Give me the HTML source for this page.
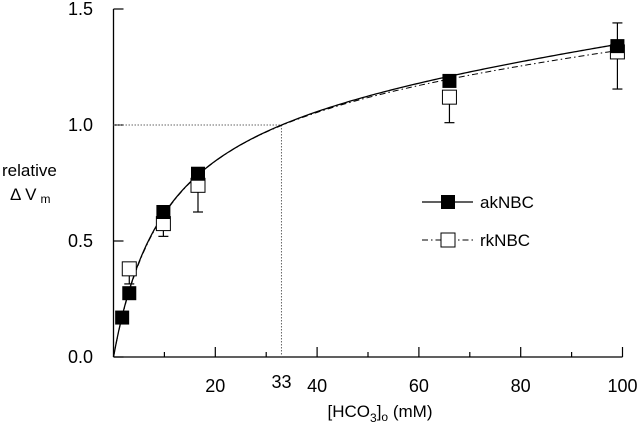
<!DOCTYPE html>
<html><head><meta charset="utf-8"><style>
body{margin:0;background:#fff;}
svg{display:block;font-family:"Liberation Sans",sans-serif;}
</style></head><body>
<svg id="chart" width="640" height="428" viewBox="0 0 640 428">
<g id="axes"></g>
<g id="guides"></g>
<g id="curves"></g>
<g id="marks"></g>
<text x="2" y="176" font-size="17">relative</text>
<text x="10" y="200" font-size="17">Δ V<tspan font-size="12" dx="4" dy="3">m</tspan></text>
<text x="380" y="417" font-size="17" text-anchor="middle">[HCO<tspan font-size="12" dy="5">3</tspan><tspan dy="-5">]</tspan><tspan font-size="12" dy="4">o</tspan><tspan dy="-4"> (mM)</tspan></text>
<g>
<line x1="422" y1="202" x2="473" y2="202" stroke="#000" stroke-width="1.2"/>
<rect x="441" y="195" width="14" height="14" fill="#000"/>
<text x="480" y="208" font-size="17">akNBC</text>
<line x1="422" y1="240" x2="473" y2="240" stroke="#000" stroke-width="1" stroke-dasharray="6,3,1.5,3"/>
<rect x="441" y="233" width="14" height="14" fill="#fff" stroke="#000"/>
<text x="480" y="246" font-size="17">rkNBC</text>
</g>
</svg>
<script>
const concA=[1.7,3.1,9.8,16.6,66,99];
const akVals=[0.17,0.275,0.625,0.79,1.19,1.34];
const akErrHi=[null,null,null,null,null,1.44];
const concR=[3.1,9.8,16.6,66,99];
const rkVals=[0.38,0.575,0.74,1.12,1.315];
const rkErrLo=[0.315,0.52,0.625,1.01,1.155];
const akFit=[1.185,10,0.00274];
const rkFit=[1.22,10.5,0.0022];
const xTicks=[10,20,30,40,50,60,70,80,90,100];
const xLabels=[20,33,40,60,80,100];
const yTicks=[0,0.5,1.0,1.5];
const guideX=[33];const guideY=[1.0];

const X=v=>113.5+5.09*v, Y=v=>357-232*v;
const NS="http://www.w3.org/2000/svg";
function mk(p,t,a){const e=document.createElementNS(NS,t);for(const k in a)e.setAttribute(k,a[k]);p.appendChild(e);return e;}
const ax=document.getElementById('axes');
let e;
e=mk(ax,'line',{x1:X(0),y1:Y(0),x2:X(100),y2:Y(0),stroke:'#000','stroke-width':1.3});


e=mk(ax,'line',{x1:X(0),y1:Y(0),x2:X(0),y2:Y(1.5),stroke:'#000','stroke-width':1.3});


xTicks.forEach(t=>{e=mk(ax,'line',{x1:X(t),y1:Y(0),x2:X(t),y2:Y(0)-(t%20==0?10:5),stroke:'#000','stroke-width':1.2});

});
xLabels.forEach(t=>{e=mk(ax,'text',{x:X(t),y:t==33?388:392,'font-size':18,'text-anchor':'middle'});e.textContent=t;

});
yTicks.forEach(t=>{e=mk(ax,'line',{x1:X(0),y1:Y(t),x2:X(0)+10,y2:Y(t),stroke:'#000','stroke-width':1.2});


e=mk(ax,'text',{x:93,y:Y(t)+6,'font-size':18,'text-anchor':'end'});e.textContent=t.toFixed(1);

});
const g=document.getElementById('guides');
e=mk(g,'polyline',{points:`${X(0)},${Y(guideY[0])} ${X(guideX[0])},${Y(guideY[0])} ${X(guideX[0])},${Y(0)}`,fill:'none',stroke:'#666','stroke-width':1,'stroke-dasharray':'1.5,1.5'});


const cv=document.getElementById('curves');
function curve(f,dash,name){let pts=[];for(let v=0;v<=100;v+=0.5)pts.push(X(v)+','+Y(f[0]*v/(f[1]+v)+f[2]*v));
const a={points:pts.join(' '),fill:'none',stroke:'#000','stroke-width':dash?1:1.3};if(dash)a['stroke-dasharray']=dash;
e=mk(cv,'polyline',a);

}
curve(rkFit,'6,3,1.5,3','rknbc-fit');
curve(akFit,null,'aknbc-fit');
const m=document.getElementById('marks');
concR.forEach((c,i)=>{e=mk(m,'line',{x1:X(c),y1:Y(rkVals[i]),x2:X(c),y2:Y(rkErrLo[i]),stroke:'#000','stroke-width':1.2});


e=mk(m,'line',{x1:X(c)-5,y1:Y(rkErrLo[i]),x2:X(c)+5,y2:Y(rkErrLo[i]),stroke:'#000','stroke-width':1.2});


e=mk(m,'rect',{x:X(c)-7,y:Y(rkVals[i])-7,width:14,height:14,fill:'#fff',stroke:'#000','stroke-width':1});

});
concA.forEach((c,i)=>{if(akErrHi[i]!==null){
e=mk(m,'line',{x1:X(c),y1:Y(akVals[i]),x2:X(c),y2:Y(akErrHi[i]),stroke:'#000','stroke-width':1.2});


e=mk(m,'line',{x1:X(c)-5,y1:Y(akErrHi[i]),x2:X(c)+5,y2:Y(akErrHi[i]),stroke:'#000','stroke-width':1.2});

}
e=mk(m,'rect',{x:X(c)-7,y:Y(akVals[i])-7,width:14,height:14,fill:'#000'});

});
</script>
</body></html>
